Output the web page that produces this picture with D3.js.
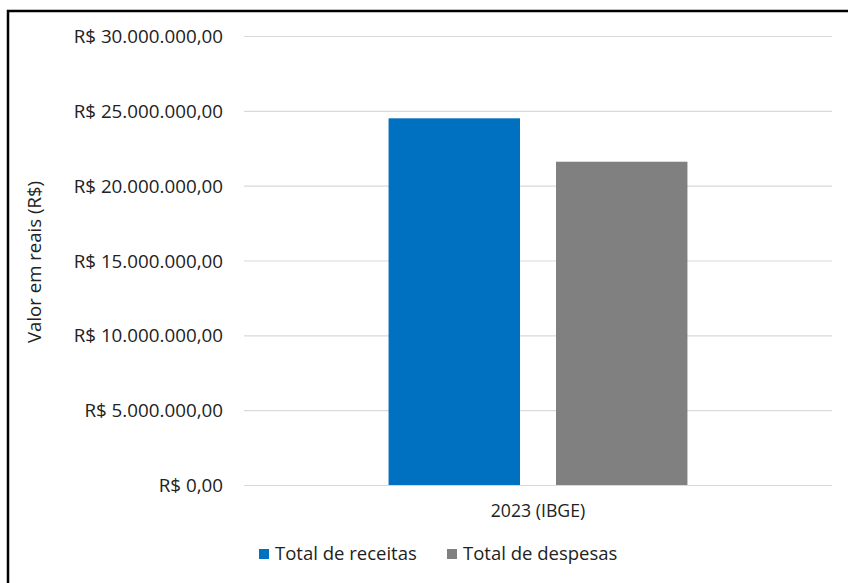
<!DOCTYPE html>
<html><head><meta charset="utf-8">
<script src="https://cdn.jsdelivr.net/npm/d3@7"></script>
<style>
html,body{margin:0;padding:0;background:#fff;}
svg{display:block;}
text{font-family:"Open Sans",Lato,sans-serif;fill:#222;}
</style></head>
<body>
<svg id="c" width="848" height="583"></svg>
<script>
const categories = ["2023 (IBGE)"];
const seriesNames = ["Total de receitas", "Total de despesas"];
const receitas = [24500000];
const despesas = [21600000];
const yTicks = [0, 5000000, 10000000, 15000000, 20000000, 25000000, 30000000];
const colors = ["#0070C0", "#808080"];

(function(){
const svg = d3.select("#c");
const W = 848, H = 583;
const mLeft = 244, mRight = 832, mTop = 36, mBottom = 485;

// outer border
svg.append("path").attr("d", `M8,${H+5} L8,11 L${W+5},11`).attr("fill","none").attr("stroke","#000").attr("stroke-width",2.5);

const y = d3.scaleLinear().domain([0, 30000000]).range([mBottom, mTop]);
const x0 = d3.scaleBand().domain(categories).range([mLeft, mRight]).padding(0.326);
const x1 = d3.scaleBand().domain(seriesNames).range([0, x0.bandwidth()]).paddingInner(0.215).paddingOuter(0);

const fmt = v => "R$ " + (v === 0 ? "0,00" : d3.format(",")(v).replace(/,/g, ".") + ",00");

const yAxis = d3.axisLeft(y).tickValues(yTicks).tickSize(-(mRight-mLeft)).tickFormat(fmt).tickPadding(21);
const ga = svg.append("g").attr("transform", `translate(${mLeft},0)`).call(yAxis);
ga.select(".domain").remove();
ga.selectAll(".tick line").attr("stroke", "#d9d9d9").attr("stroke-width", 1.2);
ga.selectAll(".tick text").style("font-size","18.8px").attr("fill","#1e1e1e").attr("dy","0.35em");

const data = categories.map((c, i) => ({cat: c, vals: [receitas[i], despesas[i]]}));
const g = svg.append("g");
data.forEach(d => {
  g.selectAll(null).data(d.vals).enter().append("rect")
    .attr("x", (v, j) => x0(d.cat) + x1(seriesNames[j]))
    .attr("width", x1.bandwidth())
    .attr("y", v => y(v))
    .attr("height", v => mBottom - y(v))
    .attr("fill", (v, j) => colors[j]);
});

const xa = d3.axisBottom(x0).tickSize(0).tickPadding(19);
const gx = svg.append("g").attr("transform", `translate(0,${mBottom})`).call(xa);
gx.select(".domain").remove();
gx.selectAll(".tick text").style("font-size","17.7px").attr("fill","#1e1e1e");

svg.append("text").attr("transform", `translate(41,262) rotate(-90)`)
  .attr("text-anchor","middle").attr("fill","#1e1e1e").style("font-size","18.6px").text("Valor em reais (R$)");

// legend
const legX = [259, 447];
const lg = svg.append("g");
seriesNames.forEach((s, i) => {
  lg.append("rect").attr("x", legX[i]).attr("y", 549).attr("width", 10).attr("height", 10).attr("fill", colors[i]);
  lg.append("text").attr("x", legX[i] + 16).attr("y", 554).attr("dy","0.35em").attr("fill","#1e1e1e").style("font-size","18.5px").text(s);
});
})();
</script>
</body></html>
